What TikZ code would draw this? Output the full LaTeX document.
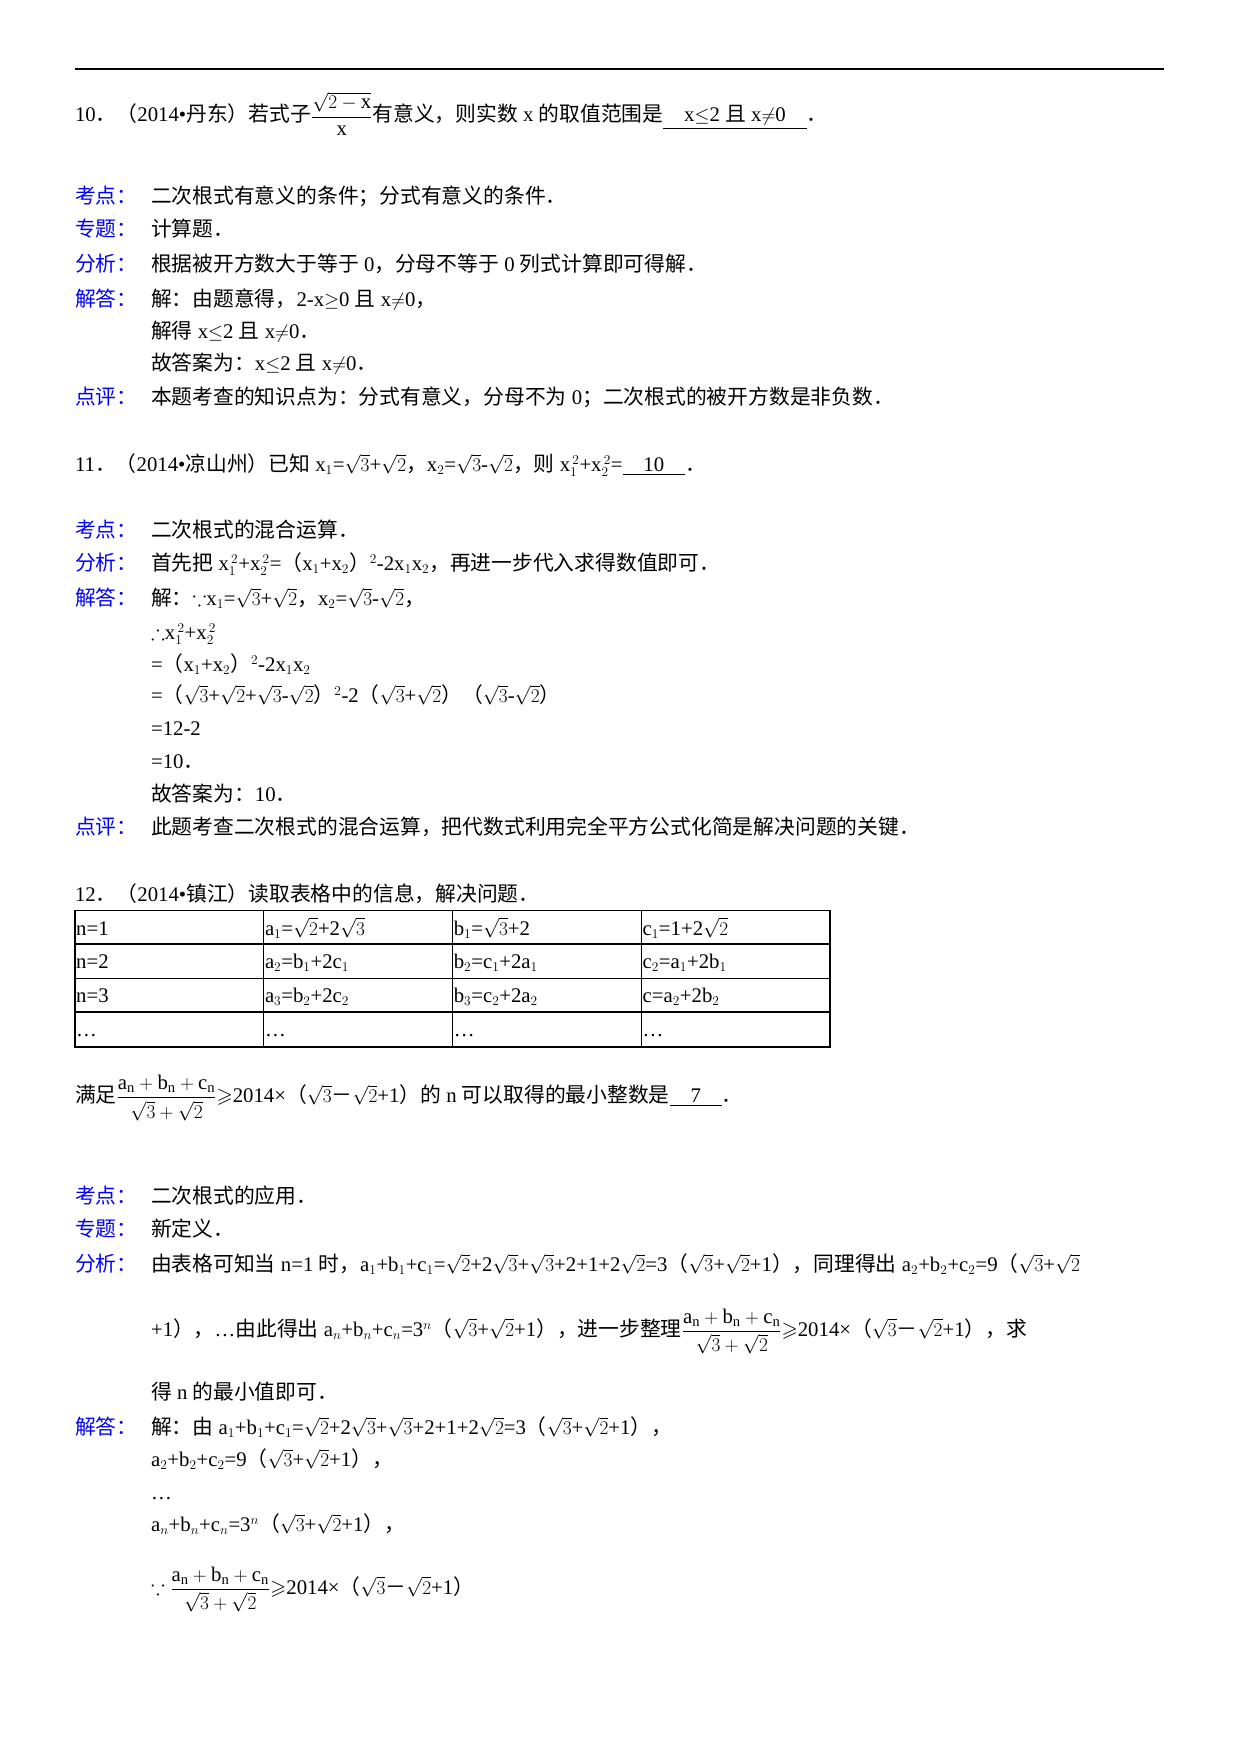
\documentclass[tikz,border=0pt]{standalone}
\usepackage{amsmath,amssymb}
\usepackage{fontspec}
\setmainfont{Liberation Serif}
\newfontfamily\cjk{Noto Sans CJK SC}
\XeTeXinterchartokenstate=1
\newXeTeXintercharclass\cjkclass
\count255="4E00 \loop\XeTeXcharclass\count255=\cjkclass\advance\count255 1 \ifnum\count255<"A000 \repeat
\count255="FF00 \loop\XeTeXcharclass\count255=\cjkclass\advance\count255 1 \ifnum\count255<"FFF0 \repeat
\count255="3000 \loop\XeTeXcharclass\count255=\cjkclass\advance\count255 1 \ifnum\count255<"3040 \repeat
\XeTeXinterchartoks 0 \cjkclass={\cjk}
\XeTeXinterchartoks 4095 \cjkclass={\cjk}
\XeTeXinterchartoks \cjkclass 0={\rmfamily}
\XeTeXinterchartoks \cjkclass 4095={\rmfamily}
\newcommand\Lab[3]{\node[lab] (#1) at (67,#2) {#3};}
\newcommand\Txt[3]{\node[txt] (#1) at (135,#2) {#3};}
\newcommand\sq[1]{\sqrt{#1}}
\begin{document}
\begin{tikzpicture}[x=1pt,y=-1pt,
  every node/.style={font=\fontsize{18.6}{22}\selectfont},
  lab/.style={anchor=base west,inner sep=0pt,text=blue},
  txt/.style={anchor=base west,inner sep=0pt},
  cell/.style={anchor=base west,inner sep=0pt}]
\useasboundingbox (0,0) rectangle (1110,1570);
\draw[line width=1.6pt] (67,62) -- (1042,62);
% Q10
\node[txt] (q10) at (67,109) {10．（2014•丹东）若式子$\dfrac{\sqrt{2-\mathrm{x}}}{\mathrm{x}}$有意义，则实数 x 的取值范围是\underline{\hspace{1em}x$\le$2 且 x$\neq$0\hspace{1em}}．};
\Lab{l1}{182}{考点：}\Txt{t1}{182}{二次根式有意义的条件；分式有意义的条件．}
\Lab{l2}{212}{专题：}\Txt{t2}{212}{计算题．}
\Lab{l3}{243}{分析：}\Txt{t3}{243}{根据被开方数大于等于 0，分母不等于 0 列式计算即可得解．}
\Lab{l4}{274}{解答：}\Txt{t4}{274}{解：由题意得，2-x$\ge$0 且 x$\neq$0，}
\Txt{t5}{303}{解得 x$\le$2 且 x$\neq$0．}
\Txt{t6}{332}{故答案为：x$\le$2 且 x$\neq$0．}
\Lab{l5}{362}{点评：}\Txt{t7}{362}{本题考查的知识点为：分式有意义，分母不为 0；二次根式的被开方数是非负数．}
% Q11
\node[txt] (q11) at (67,422) {11．（2014•凉山州）已知 x$_1$=$\sq3$+$\sq2$，x$_2$=$\sq3$-$\sq2$，则 x$_1^{\,2}$+x$_2^{\,2}$=\underline{\hspace{1em}10\hspace{1em}}．};
\Lab{m1}{481}{考点：}\Txt{u1}{481}{二次根式的混合运算．}
\Lab{m2}{511}{分析：}\Txt{u2}{511}{首先把 x$_1^{\,2}$+x$_2^{\,2}$=（x$_1$+x$_2$）$^2$-2x$_1$x$_2$，再进一步代入求得数值即可．}
\Lab{m3}{542}{解答：}\Txt{u3}{542}{解：$\because$x$_1$=$\sq3$+$\sq2$，x$_2$=$\sq3$-$\sq2$，}
\Txt{u4}{572}{$\therefore$x$_1^{\,2}$+x$_2^{\,2}$}
\Txt{u5}{601}{=（x$_1$+x$_2$）$^2$-2x$_1$x$_2$}
\Txt{u6}{629}{=（$\sq3$+$\sq2$+$\sq3$-$\sq2$）$^2$-2（$\sq3$+$\sq2$）（$\sq3$-$\sq2$）}
\Txt{u7}{658}{=12-2}
\Txt{u8}{688}{=10．}
\Txt{u9}{717}{故答案为：10．}
\Lab{m4}{747}{点评：}\Txt{u10}{747}{此题考查二次根式的混合运算，把代数式利用完全平方公式化简是解决问题的关键．}
% Q12
\node[txt] (q12) at (67,807) {12．（2014•镇江）读取表格中的信息，解决问题．};
\draw[line width=1.3pt] (67,815) rectangle (743,937);
\foreach \y in {845,876,906} \draw[line width=1.3pt] (67,\y) -- (743,\y);
\foreach \x in {236,405,574} \draw[line width=1.3pt] (\x,815) -- (\x,937);
\node[cell] (c11) at (68,837) {n=1};
\node[cell] (c12) at (237,837) {a$_1$=$\sq2$+2$\sq3$};
\node[cell] (c13) at (406,837) {b$_1$=$\sq3$+2};
\node[cell] (c14) at (575,837) {c$_1$=1+2$\sq2$};
\node[cell] (c21) at (68,867) {n=2};
\node[cell] (c22) at (237,867) {a$_2$=b$_1$+2c$_1$};
\node[cell] (c23) at (406,867) {b$_2$=c$_1$+2a$_1$};
\node[cell] (c24) at (575,867) {c$_2$=a$_1$+2b$_1$};
\node[cell] (c31) at (68,897) {n=3};
\node[cell] (c32) at (237,897) {a$_3$=b$_2$+2c$_2$};
\node[cell] (c33) at (406,897) {b$_3$=c$_2$+2a$_2$};
\node[cell] (c34) at (575,897) {c=a$_2$+2b$_2$};
\node[cell] (c41) at (68,928) {…};
\node[cell] (c42) at (237,928) {…};
\node[cell] (c43) at (406,928) {…};
\node[cell] (c44) at (575,928) {…};
\node[txt] (q12b) at (67,987) {满足$\dfrac{\mathrm{a_n+b_n+c_n}}{\sq3+\sq2}$$\geqslant$2014×（$\sq3$－$\sq2$+1）的 n 可以取得的最小整数是\underline{\hspace{1em}7\hspace{1em}}．};
\Lab{n1}{1077}{考点：}\Txt{v1}{1077}{二次根式的应用．}
\Lab{n2}{1107}{专题：}\Txt{v2}{1107}{新定义．}
\Lab{n3}{1138}{分析：}\Txt{v3}{1138}{由表格可知当 n=1 时，a$_1$+b$_1$+c$_1$=$\sq2$+2$\sq3$+$\sq3$+2+1+2$\sq2$=3（$\sq3$+$\sq2$+1），同理得出 a$_2$+b$_2$+c$_2$=9（$\sq3$+$\sq2$}
\Txt{v4}{1196}{+1），…由此得出 a$_n$+b$_n$+c$_n$=3$^n$（$\sq3$+$\sq2$+1），进一步整理$\dfrac{\mathrm{a_n+b_n+c_n}}{\sq3+\sq2}$$\geqslant$2014×（$\sq3$－$\sq2$+1），求}
\Txt{v5}{1253}{得 n 的最小值即可．}
\Lab{n4}{1284}{解答：}\Txt{v6}{1284}{解：由 a$_1$+b$_1$+c$_1$=$\sq2$+2$\sq3$+$\sq3$+2+1+2$\sq2$=3（$\sq3$+$\sq2$+1），}
\Txt{v7}{1313}{a$_2$+b$_2$+c$_2$=9（$\sq3$+$\sq2$+1），}
\Txt{v8}{1342}{…}
\Txt{v9}{1371}{a$_n$+b$_n$+c$_n$=3$^n$（$\sq3$+$\sq2$+1），}
\Txt{v10}{1427}{$\because\dfrac{\mathrm{a_n+b_n+c_n}}{\sq3+\sq2}$$\geqslant$2014×（$\sq3$－$\sq2$+1）}
\end{tikzpicture}
\end{document}
